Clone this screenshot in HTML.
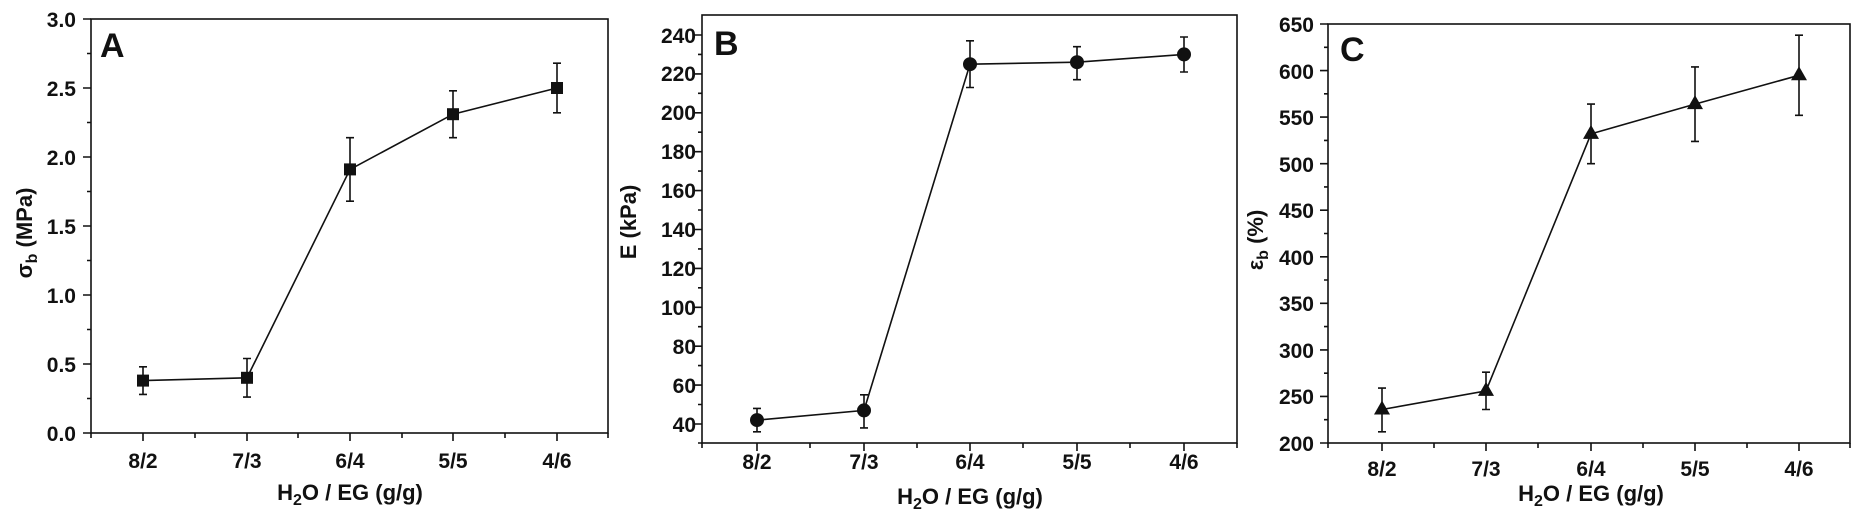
<!DOCTYPE html>
<html><head><meta charset="utf-8"><style>
html,body{margin:0;padding:0;background:#fff;}
svg{display:block;}
text{font-family:"Liberation Sans",Arial,sans-serif;font-weight:bold;fill:#111;}
.t{font-size:21px;}
.ttl{font-size:22px;}
.big{font-size:34px;}
</style></head><body>
<svg width="1862" height="525" viewBox="0 0 1862 525" xmlns="http://www.w3.org/2000/svg">
<g stroke="#111" stroke-width="1.6" fill="none">
<!-- Panel A -->
<rect x="91" y="19" width="517" height="414"/>
<path d="M91 433h-8M91 364h-8M91 295h-8M91 226h-8M91 157h-8M91 88h-8M91 19h-8M91 398.5h-4M91 329.5h-4M91 260.5h-4M91 191.5h-4M91 122.5h-4M91 53.5h-4"/>
<path d="M143 433v8M247 433v8M350 433v8M453 433v8M557 433v8M91 433v5M195 433v5M298 433v5M402 433v5M505 433v5M608 433v5"/>
<!-- Panel B -->
<rect x="702" y="15" width="535" height="428"/>
<path d="M702 424h-8M702 385.1h-8M702 346.2h-8M702 307.3h-8M702 268.4h-8M702 229.5h-8M702 190.6h-8M702 151.7h-8M702 112.8h-8M702 73.9h-8M702 35h-8M702 443h-4M702 404.5h-4M702 365.6h-4M702 326.7h-4M702 287.8h-4M702 248.9h-4M702 210h-4M702 171.1h-4M702 132.2h-4M702 93.3h-4M702 54.4h-4"/>
<path d="M757 443v8M864 443v8M970 443v8M1077 443v8M1184 443v8M702 443v5M810 443v5M917 443v5M1023 443v5M1130 443v5M1237 443v5"/>
<!-- Panel C -->
<rect x="1328" y="24" width="522" height="419"/>
<path d="M1328 443h-8M1328 396.4h-8M1328 349.9h-8M1328 303.3h-8M1328 256.8h-8M1328 210.2h-8M1328 163.7h-8M1328 117.1h-8M1328 70.6h-8M1328 24h-8M1328 419.7h-4M1328 373.2h-4M1328 326.6h-4M1328 280h-4M1328 233.5h-4M1328 186.9h-4M1328 140.4h-4M1328 93.8h-4M1328 47.3h-4"/>
<path d="M1382 443v8M1486 443v8M1591 443v8M1695 443v8M1799 443v8M1328 443v5M1434 443v5M1538 443v5M1643 443v5M1747 443v5M1850 443v5"/>
</g>
<!-- series -->
<g stroke="#111" stroke-width="1.6" fill="none">
<polyline points="143,380.6 247,377.8 350,169.4 453,114.2 557,88"/>
<path d="M143 394.4V366.8M139 394.4h8M139 366.8h8 M247 397.1V358.5M243 397.1h8M243 358.5h8 M350 201.2V137.7M346 201.2h8M346 137.7h8 M453 137.7V90.8M449 137.7h8M449 90.8h8 M557 112.8V63.2M553 112.8h8M553 63.2h8"/>
<polyline points="757,420.1 864,410.4 970,64.2 1077,62.2 1184,54.4"/>
<path d="M757 431.8V408.4M753 431.8h8M753 408.4h8 M864 427.9V394.8M860 427.9h8M860 394.8h8 M970 87.5V40.8M966 87.5h8M966 40.8h8 M1077 79.7V46.7M1073 79.7h8M1073 46.7h8 M1184 72V37M1180 72h8M1180 37h8"/>
<polyline points="1382,409.5 1486,390.9 1591,133.9 1695,104.1 1799,75.3"/>
<path d="M1382 431.8V388.1M1378 431.8h8M1378 388.1h8 M1486 409.5V372.2M1482 409.5h8M1482 372.2h8 M1591 163.7V104.1M1587 163.7h8M1587 104.1h8 M1695 141.4V66.9M1691 141.4h8M1691 66.9h8 M1799 115.3V35.2M1795 115.3h8M1795 35.2h8"/>
</g>
<g fill="#111">
<rect x="137" y="374.6" width="12" height="12"/><rect x="241" y="371.8" width="12" height="12"/><rect x="344" y="163.4" width="12" height="12"/><rect x="447" y="108.2" width="12" height="12"/><rect x="551" y="82" width="12" height="12"/>
<circle cx="757" cy="420.1" r="7"/><circle cx="864" cy="410.4" r="7"/><circle cx="970" cy="64.2" r="7"/><circle cx="1077" cy="62.2" r="7"/><circle cx="1184" cy="54.4" r="7"/>
<polygon points="1382,400.5 1390,414.5 1374,414.5"/><polygon points="1486,381.9 1494,395.9 1478,395.9"/><polygon points="1591,124.9 1599,138.9 1583,138.9"/><polygon points="1695,95.1 1703,109.1 1687,109.1"/><polygon points="1799,66.3 1807,80.3 1791,80.3"/>
</g>
<!-- tick labels A -->
<g class="t" text-anchor="end">
<text x="76" y="441">0.0</text><text x="76" y="372">0.5</text><text x="76" y="303">1.0</text><text x="76" y="234">1.5</text><text x="76" y="165">2.0</text><text x="76" y="96">2.5</text><text x="76" y="27">3.0</text>
<text x="696" y="432">40</text><text x="696" y="393">60</text><text x="696" y="354">80</text><text x="696" y="315">100</text><text x="696" y="276">120</text><text x="696" y="237">140</text><text x="696" y="198">160</text><text x="696" y="159">180</text><text x="696" y="120">200</text><text x="696" y="81">220</text><text x="696" y="43">240</text>
<text x="1314" y="451">200</text><text x="1314" y="404">250</text><text x="1314" y="358">300</text><text x="1314" y="311">350</text><text x="1314" y="265">400</text><text x="1314" y="218">450</text><text x="1314" y="172">500</text><text x="1314" y="125">550</text><text x="1314" y="79">600</text><text x="1314" y="32">650</text>
</g>
<g class="t" text-anchor="middle">
<text x="143" y="468">8/2</text><text x="247" y="468">7/3</text><text x="350" y="468">6/4</text><text x="453" y="468">5/5</text><text x="557" y="468">4/6</text>
<text x="757" y="469">8/2</text><text x="864" y="469">7/3</text><text x="970" y="469">6/4</text><text x="1077" y="469">5/5</text><text x="1184" y="469">4/6</text>
<text x="1382" y="476">8/2</text><text x="1486" y="476">7/3</text><text x="1591" y="476">6/4</text><text x="1695" y="476">5/5</text><text x="1799" y="476">4/6</text>
</g>
<g class="ttl" text-anchor="middle">
<text x="350" y="500">H<tspan font-size="16" dy="5">2</tspan><tspan dy="-5">O / EG (g/g)</tspan></text>
<text x="970" y="504">H<tspan font-size="16" dy="5">2</tspan><tspan dy="-5">O / EG (g/g)</tspan></text>
<text x="1591" y="501">H<tspan font-size="16" dy="5">2</tspan><tspan dy="-5">O / EG (g/g)</tspan></text>
<text transform="translate(32,233) rotate(-90)">σ<tspan font-size="16" dy="5">b</tspan><tspan dy="-5"> (MPa)</tspan></text>
<text transform="translate(636,222) rotate(-90)">E (kPa)</text>
<text transform="translate(1263,240) rotate(-90)">ε<tspan font-size="16" dy="5">b</tspan><tspan dy="-5"> (%)</tspan></text>
</g>
<g class="big">
<text x="100" y="57">A</text>
<text x="714" y="55">B</text>
<text x="1340" y="61">C</text>
</g>
</svg>
</body></html>
